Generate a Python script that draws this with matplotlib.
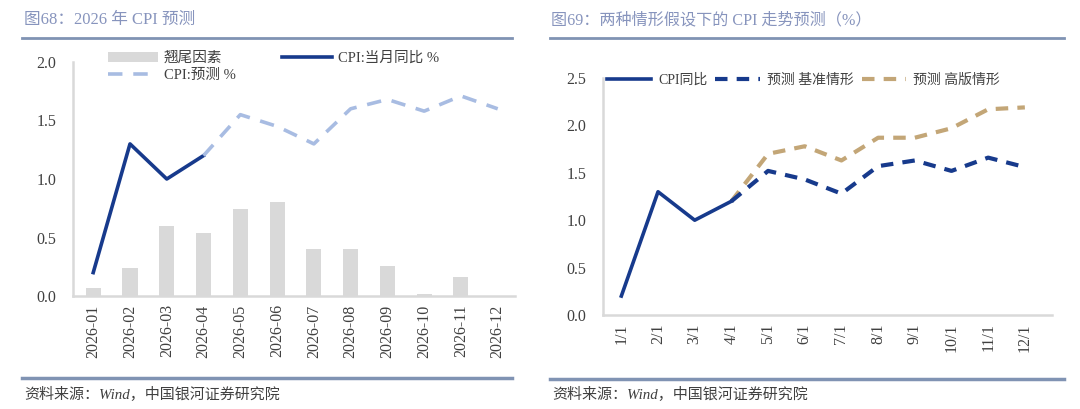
import matplotlib
matplotlib.use("Agg")
import matplotlib.pyplot as plt
from matplotlib.lines import Line2D

plt.rcParams['font.family'] = ['Liberation Serif', 'Noto Sans CJK SC', 'DejaVu Sans']

# ---- data: figure 68 ----
months = ['2026-01', '2026-02', '2026-03', '2026-04', '2026-05', '2026-06',
          '2026-07', '2026-08', '2026-09', '2026-10', '2026-11', '2026-12']
tail_factor = [0.07, 0.24, 0.60, 0.54, 0.74, 0.80, 0.40, 0.40, 0.26, 0.02, 0.16, 0.0]
cpi_actual = [0.2, 1.3, 1.0, 1.2]
cpi_forecast = [1.2, 1.55, 1.45, 1.3, 1.6, 1.68, 1.58, 1.71, 1.6]

# ---- data: figure 69 ----
dates = ['1/1', '2/1', '3/1', '4/1', '5/1', '6/1', '7/1', '8/1', '9/1', '10/1', '11/1', '12/1']
cpi_yoy = [0.2, 1.3, 1.0, 1.2]
base_case = [1.2, 1.52, 1.43, 1.28, 1.57, 1.63, 1.52, 1.66, 1.56]
high_case = [1.2, 1.70, 1.78, 1.63, 1.87, 1.87, 1.97, 2.17, 2.19]

NAVY = '#173a8c'
LIGHT = '#a8bce2'
TAN = '#c3a677'
GRID = '#d9d9d9'
TXT = '#404040'
TITLE = '#8794bd'
RULE = '#8093b3'
TICK = 11.5

W, H = 1080, 409
fig = plt.figure(figsize=(W / 100, H / 100), dpi=100)


def px_axes(x0, y0, x1, y1):
    return fig.add_axes([x0 / W, 1 - y1 / H, (x1 - x0) / W, (y1 - y0) / H])


def rule(x0, x1, y, lw=2.0):
    fig.add_artist(Line2D([x0 / W, x1 / W], [1 - y / H, 1 - y / H],
                          color=RULE, lw=lw, transform=fig.transFigure))


def style(ax):
    for s in ['top', 'right']:
        ax.spines[s].set_visible(False)
    for s in ['left', 'bottom']:
        ax.spines[s].set_color(GRID)
        ax.spines[s].set_linewidth(1.8)
    ax.tick_params(length=0, colors=TXT, labelsize=TICK, pad=6)


# ---- panel 68 ----
fig.text(24 / W, 1 - 20 / H, '图68：2026 年 CPI 预测', color=TITLE, fontsize=12,
         va='center', ha='left')
rule(22, 512, 38)
rule(22, 512, 378, lw=2.5)
fig.text(24 / W, 1 - 395 / H, '资料来源：Wind，中国银河证券研究院', color=TXT,
         fontsize=10.8, style='italic', va='center', ha='left')

ax1 = px_axes(73, 62, 515, 296)
x1 = list(range(len(months)))
bars = ax1.bar(x1, tail_factor, width=0.41, color=GRID, label='翘尾因素')
l_act, = ax1.plot(x1[:4], cpi_actual, color=NAVY, lw=2.6, label='CPI:当月同比 %')
l_fc, = ax1.plot(x1[3:], cpi_forecast, color=LIGHT, lw=2.6, ls=(0, (4, 3)),
                 label='CPI:预测 %')
ax1.set_ylim(0, 2.0)
ax1.set_xlim(-0.55, 11.47)
ax1.set_yticks([0, 0.5, 1.0, 1.5, 2.0])
ax1.set_yticklabels(['0.0', '0.5', '1.0', '1.5', '2.0'])
ax1.set_xticks(x1)
ax1.set_xticklabels(months, rotation=90)
style(ax1)
ax1.tick_params(axis='y', pad=12)
# column-major fill: col 1 = bars, forecast; col 2 = actual
ax1.legend([bars, l_fc, l_act], ['翘尾因素', 'CPI:预测 %', 'CPI:当月同比 %'],
           ncol=2, frameon=False, fontsize=10.5, loc='upper left',
           bbox_to_anchor=(0.05, 1.10), handlelength=3.4, columnspacing=3.2,
           labelspacing=0.25, handletextpad=0.4, labelcolor=TXT)

# ---- panel 69 ----
fig.text(551 / W, 1 - 20 / H, '图69：两种情形假设下的 CPI 走势预测（%）', color=TITLE,
         fontsize=11.6, va='center', ha='left')
rule(550, 1064, 38)
rule(550, 1064, 379, lw=2.5)
fig.text(552 / W, 1 - 395 / H, '资料来源：Wind，中国银河证券研究院', color=TXT,
         fontsize=10.8, style='italic', va='center', ha='left')

ax2 = px_axes(603, 78, 1052, 315)
x2 = list(range(len(dates)))
l_hi, = ax2.plot(x2[3:], high_case, color=TAN, lw=3, ls=(0, (3, 2.2)),
                 label='预测 高版情形')
l_base, = ax2.plot(x2[3:], base_case, color=NAVY, lw=3, ls=(0, (3, 2.2)),
                   label='预测 基准情形')
l_yoy, = ax2.plot(x2[:4], cpi_yoy, color=NAVY, lw=2.6, label='CPI同比')
ax2.set_ylim(0, 2.5)
ax2.set_xlim(-0.5, 11.74)
ax2.set_yticks([0, 0.5, 1.0, 1.5, 2.0, 2.5])
ax2.set_yticklabels(['0.0', '0.5', '1.0', '1.5', '2.0', '2.5'])
ax2.set_xticks(x2)
ax2.set_xticklabels(dates, rotation=90)
style(ax2)
ax2.tick_params(axis='y', pad=12)
ax2.legend([l_yoy, l_base, l_hi], ['CPI同比', '预测 基准情形', '预测 高版情形'],
           ncol=3, frameon=False, fontsize=10, loc='center left',
           bbox_to_anchor=(-0.02, 0.99), handlelength=3.2,
           columnspacing=0.6, handletextpad=0.5, labelcolor=TXT)

fig.savefig('out.png', dpi=100)
